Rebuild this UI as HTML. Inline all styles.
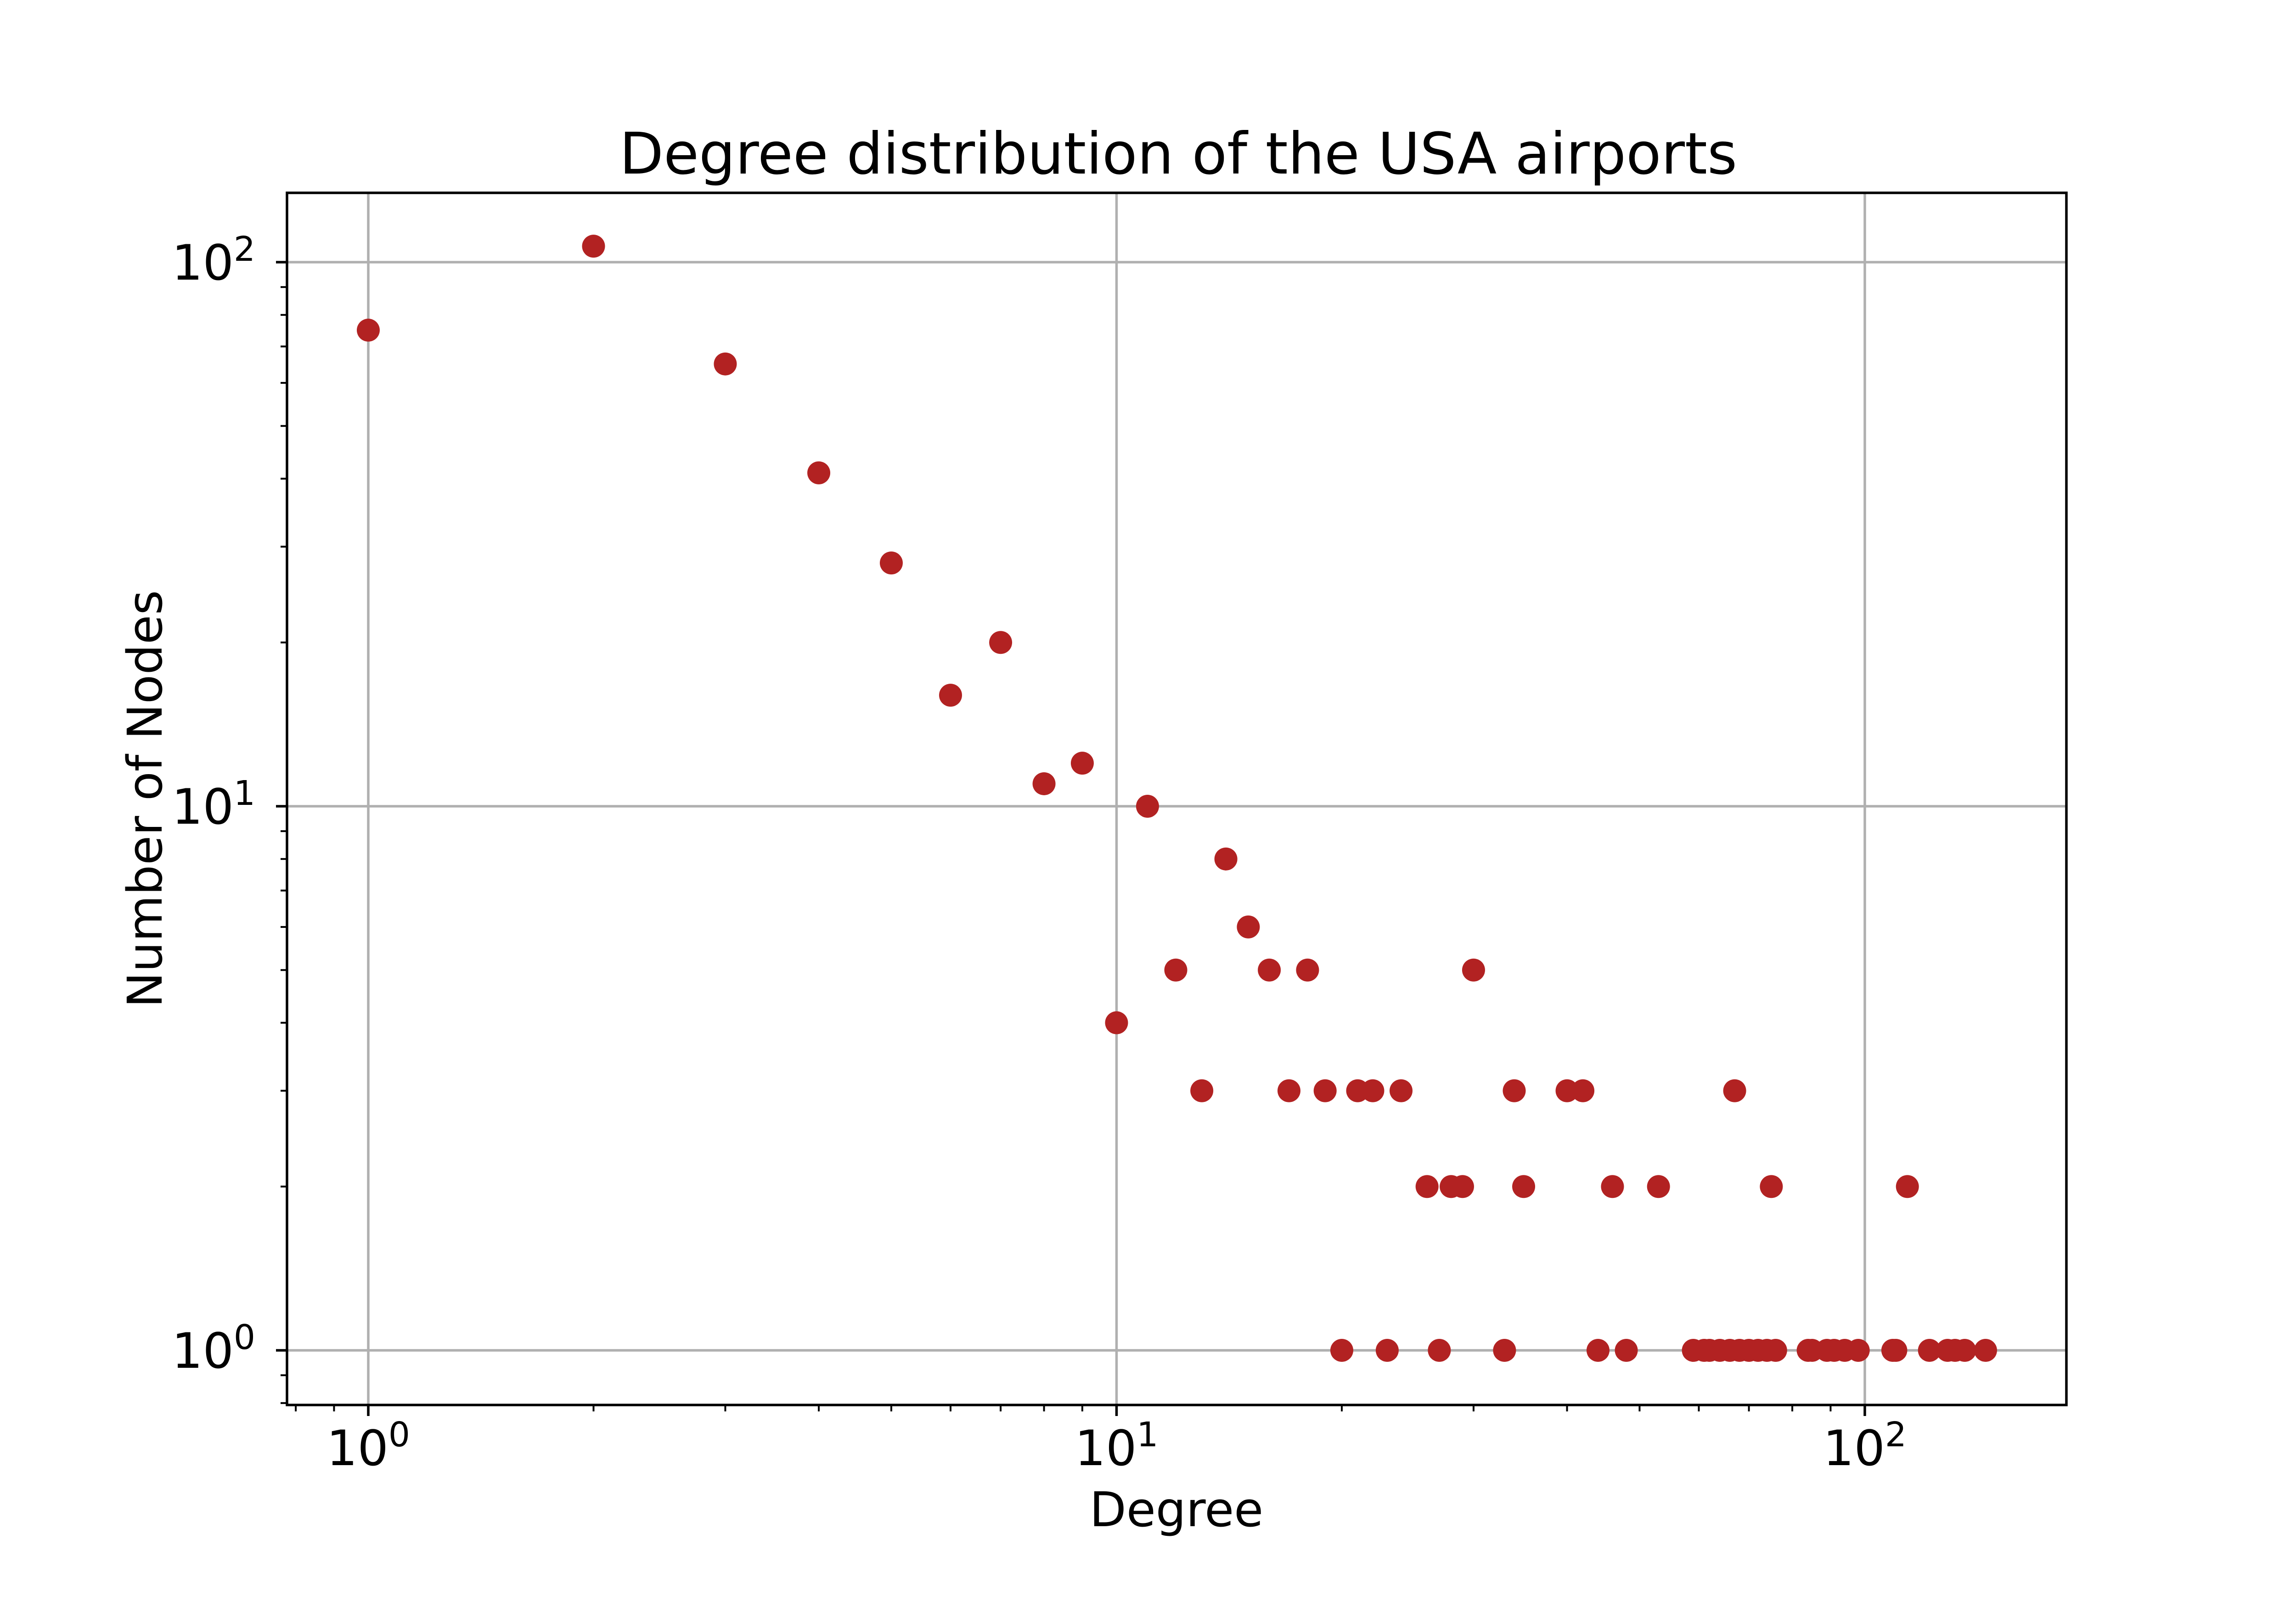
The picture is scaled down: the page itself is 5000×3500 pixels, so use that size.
<!DOCTYPE html>
<html><head><meta charset="utf-8"><style>
html,body{margin:0;padding:0;background:#fff;}
svg{display:block;font-family:"DejaVu Sans","Liberation Sans",sans-serif;}
</style></head><body>
<svg id="chart" width="5000" height="3500" viewBox="0 0 5000 3500" xmlns="http://www.w3.org/2000/svg">
<rect x="0" y="0" width="5000" height="3500" fill="#fff"/>
<g id="grid"></g>
<g id="ticks"></g>
<g id="points"></g>
<rect x="625" y="420" width="3875" height="2640" fill="none" stroke="#000" stroke-width="5.5"/>
<text x="2566" y="378" font-size="125" text-anchor="middle">Degree distribution of the USA airports</text>
<text x="2562" y="3324" font-size="104" text-anchor="middle">Degree</text>
<text x="0" y="0" font-size="104" text-anchor="middle" transform="translate(352,1740) rotate(-90)">Number of Nodes</text>
</svg>
<script>
const degrees = [1,2,3,4,5,6,7,8,9,10,11,12,13,14,15,16,17,18,19,20,21,22,23,24,26,27,28,29,30,33,34,35,40,42,44,46,48,53,59,61,62,64,66,67,68,70,72,74,75,76,84,85,89,91,94,98,109,110,114,122,129,132,136,145];
const counts  = [75,107,65,41,28,16,20,11,12,4,10,5,3,8,6,5,3,5,3,1,3,3,1,3,2,1,2,2,5,1,3,2,3,3,1,2,1,2,1,1,1,1,1,3,1,1,1,1,2,1,1,1,1,1,1,1,1,1,2,1,1,1,1,1];
const xTickValues = [1,10,100];
const xTickExps = ["0","1","2"];
const yTickValues = [1,10,100];
const yTickExps = ["0","1","2"];

const NS = "http://www.w3.org/2000/svg";
const AX = {l:625, r:4500, t:420, b:3060};
function xs(v){ return 802 + 1629.5*Math.log10(v); }
function ys(v){ return 2941 - 1185*Math.log10(v); }
function mk(tag, attrs, parent){
  const e = document.createElementNS(NS, tag);
  for (const k in attrs) e.setAttribute(k, attrs[k]);
  parent.appendChild(e); return e;
}
const grid = document.getElementById('grid');
const ticks = document.getElementById('ticks');
const pts = document.getElementById('points');

xTickValues.forEach((v,i)=>{
  const x = xs(v);
  const g = mk('line',{x1:x,x2:x,y1:AX.t,y2:AX.b,stroke:'#b0b0b0','stroke-width':5.5},grid);
  
  
  const t = mk('line',{x1:x,x2:x,y1:AX.b,y2:AX.b+24,stroke:'#000','stroke-width':5.5},ticks);
  
  
  const lb = mk('text',{x:x,y:3191,'font-size':106,'text-anchor':'middle'},ticks);
  
  
  lb.appendChild(document.createTextNode('10'));
  const sp = mk('tspan',{dy:-41,'font-size':74},lb);
  sp.textContent = xTickExps[i];
});
yTickValues.forEach((v,i)=>{
  const y = ys(v);
  const g = mk('line',{x1:AX.l,x2:AX.r,y1:y,y2:y,stroke:'#b0b0b0','stroke-width':5.5},grid);
  
  
  const t = mk('line',{x1:AX.l-24,x2:AX.l,y1:y,y2:y,stroke:'#000','stroke-width':5.5},ticks);
  
  
  const lb = mk('text',{x:556,y:y+38,'font-size':106,'text-anchor':'end'},ticks);
  
  
  lb.appendChild(document.createTextNode('10'));
  const sp = mk('tspan',{dy:-41,'font-size':74},lb);
  sp.textContent = yTickExps[i];
});
for (let d=-1; d<=2; d++){
  for (let m=2; m<=9; m++){
    const v = m*Math.pow(10,d);
    const x = xs(v);
    if (x>AX.l && x<AX.r){
      const t = mk('line',{x1:x,x2:x,y1:AX.b,y2:AX.b+14,stroke:'#000','stroke-width':4},ticks);
      
      
    }
    const y = ys(v);
    if (y>AX.t && y<AX.b){
      const t = mk('line',{x1:AX.l-14,x2:AX.l,y1:y,y2:y,stroke:'#000','stroke-width':4},ticks);
      
      
    }
  }
}
degrees.forEach((d,i)=>{
  const c = mk('circle',{cx:xs(d),cy:ys(counts[i]),r:25,fill:'#b22222'},pts);
  
  
});
</script>
</body></html>
